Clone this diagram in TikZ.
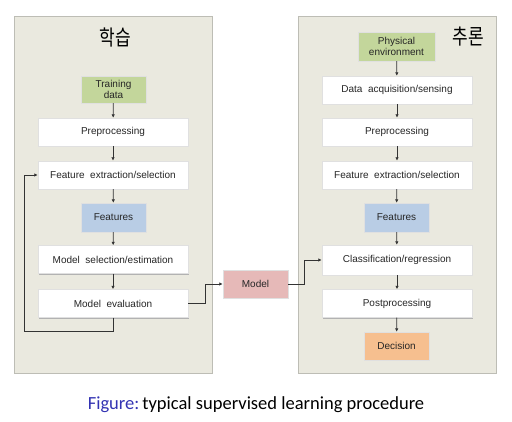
\documentclass[tikz,border=0pt]{standalone}
\usepackage{fontspec}
\setmainfont{Liberation Sans}
\newfontfamily\krfont{Noto Sans CJK KR}
\newfontfamily\capfont{Carlito}
\usetikzlibrary{shadows,arrows.meta}
\definecolor{panelbg}{HTML}{EAE9DF}
\definecolor{panelline}{HTML}{BDBDB5}
\definecolor{greenbox}{HTML}{C3D69B}
\definecolor{bluebox}{HTML}{B9CDE5}
\definecolor{pinkbox}{HTML}{E6B9B8}
\definecolor{orangebox}{HTML}{F6BF8F}
\definecolor{figblue}{HTML}{3333B3}
\definecolor{arrcol}{HTML}{333333}
\tikzset{
  panel/.style={draw=panelline, fill=panelbg, line width=0.8pt, minimum width=198, minimum height=357,
    drop shadow={shadow xshift=1.2pt, shadow yshift=-1.2pt, fill=black!25, opacity=1}},
  stepbox/.style={draw=black!12, fill=white, minimum width=150, minimum height=28, inner sep=0pt,
    font=\fontsize{10}{12}\selectfont, text=black!85,
    drop shadow={shadow xshift=1.2pt, shadow yshift=-1.2pt, fill=black!30, opacity=1}},
  colbox/.style={stepbox, minimum width=65, align=center, font=\fontsize{10}{11.5}\selectfont},
  arr/.style={draw=arrcol, line width=0.8pt, -{Latex[length=3.5pt,width=3.5pt]}},
  title/.style={font=\krfont\fontsize{17}{19}\selectfont, yscale=1.25},
}
\begin{document}
\begin{tikzpicture}[x=1pt,y=-1pt]
\useasboundingbox (0,0) rectangle (512,422);
\fill[white] (0,0) rectangle (512,422);
% panels
\node[panel] (L) at (113,194.5) {};
\node[panel] (R) at (397,194.5) {};
\node[title] (tl) at (115,38) {학습};
\node[title] (tr) at (468,37) {추론};
% left column
\node[colbox, fill=greenbox, minimum height=27] (td) at (113.5,89.5) {Training\\data};
\node[stepbox] (pre1) at (113,132) {Preprocessing};
\node[stepbox] (fe1) at (113,175) {Feature\ \ extraction/selection};
\node[colbox, fill=bluebox, minimum height=29] (ft1) at (113.5,217.5) {Features};
\node[stepbox] (ms) at (113,259.5) {Model\ \ selection/estimation};
\node[stepbox] (me) at (113,303.5) {Model\ \ evaluation};
% model
\node[colbox, fill=pinkbox] (mod) at (255.5,284) {Model};
% right column
\node[colbox, fill=greenbox, minimum width=77, minimum height=29] (pe) at (396.5,46.5) {Physical\\environment};
\node[stepbox] (da) at (397,90) {Data\ \ acquisition/sensing};
\node[stepbox] (pre2) at (397,132) {Preprocessing};
\node[stepbox] (fe2) at (397,175) {Feature\ \ extraction/selection};
\node[colbox, fill=bluebox, minimum height=29] (ft2) at (396.5,217.5) {Features};
\node[stepbox, minimum height=30] (cls) at (397,260) {Classification/regression};
\node[stepbox] (pp) at (397,303.5) {Postprocessing};
\node[colbox, fill=orangebox] (dec) at (396.5,346) {Decision};
% arrows left
\draw[arr] (td) -- (pre1);
\draw[arr] (pre1) -- (fe1);
\draw[arr] (fe1) -- (ft1);
\draw[arr] (ft1) -- (ms);
\draw[arr] (ms) -- (me);
\coordinate (lp) at (24,331);
\draw[arr] (me.south) |- (lp) |- (fe1.west);
\coordinate (c1) at (205,303.5);
\draw[arr] (me.east) -- (c1) |- (mod.west);
\coordinate (c2) at (304,284);
\draw[arr] (mod.east) -- (c2) |- (cls.west);
% arrows right
\draw[arr] (pe) -- (da);
\draw[arr] (da) -- (pre2);
\draw[arr] (pre2) -- (fe2);
\draw[arr] (fe2) -- (ft2);
\draw[arr] (ft2) -- (cls);
\draw[arr] (cls) -- (pp);
\draw[arr] (pp) -- (dec);
% caption
\node[font=\capfont\fontsize{18.5}{20}\selectfont, inner sep=0pt] (cap) at (256,405) {\textcolor{figblue}{Figure:}\,typical supervised learning procedure};
\end{tikzpicture}
\end{document}
